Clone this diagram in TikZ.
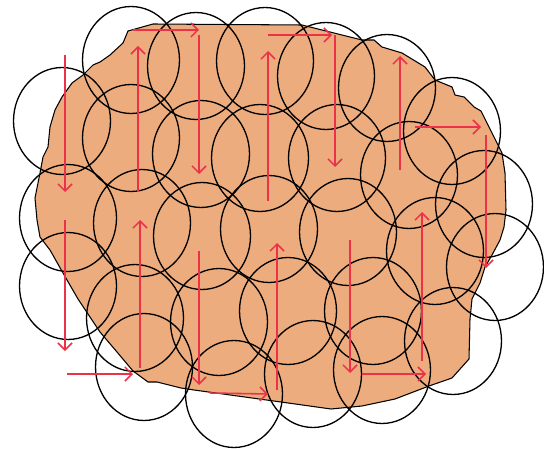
\documentclass[tikz,border=0pt]{standalone}
\usetikzlibrary{arrows.meta}
\definecolor{blobfill}{RGB}{237,172,126}
\definecolor{trackred}{RGB}{235,50,72}
\begin{document}
\begin{tikzpicture}[x=0.02cm, y=-0.02cm,
        sensor/.style={draw=black, line width=0.75pt},
        track/.style={draw=trackred, line width=0.9pt, -{Straight Barb[length=1.4mm, width=2.8mm]}}]
    \useasboundingbox (0,0) rectangle (544,449);

    \draw[fill=blobfill, line width=0.6pt] (128,31) -- (153,24) -- (302,25) -- (330,32) -- (362,40) -- (374,40)
        -- (382,47) -- (402,53) -- (425,67) -- (435,80) -- (452,87) -- (455,95) -- (464,97) -- (474,107)
        -- (481,111) -- (483,115) -- (492,133) -- (502,153) -- (505,173) -- (506,210) -- (504,227)
        -- (500,240) -- (492,255) -- (485,267) -- (480,283) -- (472,299) -- (470,319) -- (469,359)
        -- (452,378) -- (429,386) -- (395,399) -- (362,406) -- (331,409) -- (281,402) -- (194,390)
        -- (181,388) -- (157,382) -- (148,382) -- (133,371) -- (117,352) -- (100,332) -- (78,299)
        -- (63,273) -- (50,250) -- (40,237) -- (37,220) -- (35,198) -- (40,173) -- (43,157) -- (48,147)
        -- (50,127) -- (55,110) -- (62,97) -- (72,83) -- (83,75) -- (93,65) -- (100,62) -- (110,55)
        -- (123,43) -- cycle;

    \foreach \cx/\cy in {62/121, 68/218, 68/286,
            131/60, 131/138, 142/223, 135/318, 144/367,
            196/66, 201/154, 202/236, 219/322, 234/394,
            265/61, 260/158, 269/229, 288/311, 313/374,
            326/76, 337/158, 348/232, 373/311, 382/370,
            387/88, 409/175, 435/251, 453/341,
            452/131, 484/204, 495/267}
        \draw[sensor] (\cx,\cy) ellipse [x radius=0.97cm, y radius=1.07cm];

    \foreach \xa/\ya/\xb/\yb in {65/55/65/192, 138/192/138/46, 133/30/199/30, 199/35/199/174,
            268/201/268/51, 268/35/332/35, 335/35/335/167, 400/170/400/56, 415/127/481/127,
            486/135/486/268, 65/220/65/351, 67/374/133/374, 140/368/140/220, 199/251/199/385,
            210/393/268/394, 277/390/277/243, 350/240/350/373, 362/374/426/374, 422/361/422/212}
        \draw[track] (\xa,\ya) -- (\xb,\yb);
\end{tikzpicture}
\end{document}
